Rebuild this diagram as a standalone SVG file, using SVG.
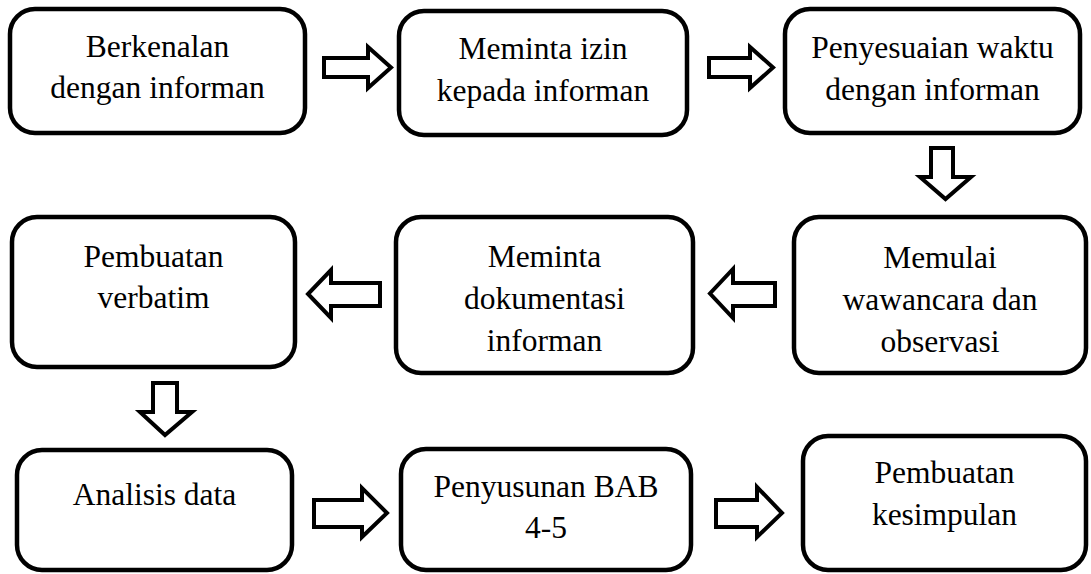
<svg xmlns="http://www.w3.org/2000/svg" width="1091" height="574" viewBox="0 0 1091 574">
<style>
.box{fill:#fff;stroke:#000;stroke-width:4.5}
.arr{fill:#fff;stroke:#000;stroke-width:4;stroke-linejoin:miter}
text{font-family:"Liberation Serif","Times New Roman",serif;font-size:31.5px;fill:#000;text-anchor:middle}
</style>
<rect width="1091" height="574" fill="#fff"/>
<g id="connectors">
<path class="arr" d="M324,58 H368 V47 L391,67.5 L368,88 V77 H324 Z"/>
<path class="arr" d="M709,58 H750 V47 L773,67.5 L750,88 V77 H709 Z"/>
<path class="arr" d="M931,148 H953 V177 H971 L945.5,199 L920,177 H931 Z"/>
<path class="arr" d="M775,283 H733 V269 L710,293.5 L733,318 V306 H775 Z"/>
<path class="arr" d="M380,283 H331 V270 L308,294 L331,318 V306 H380 Z"/>
<path class="arr" d="M153,383 H177 V412 H192 L165,435 L140,412 H153 Z"/>
<path class="arr" d="M314,500 H362 V488 L387,513 L362,537 V527 H314 Z"/>
<path class="arr" d="M716,500 H757 V487 L782,513 L757,537 V527 H716 Z"/>
</g>
<g id="n1"><rect class="box" x="10" y="9" width="295" height="124" rx="25"/><text x="157.5" y="57">Berkenalan</text><text x="157.5" y="98">dengan informan</text></g>
<g id="n2"><rect class="box" x="399" y="11" width="288" height="124" rx="25"/><text x="543" y="59">Meminta izin</text><text x="543" y="101">kepada informan</text></g>
<g id="n3"><rect class="box" x="785" y="9" width="295" height="124" rx="25"/><text x="932.5" y="58">Penyesuaian waktu</text><text x="932.5" y="100">dengan informan</text></g>
<g id="n4"><rect class="box" x="12" y="217" width="283" height="150" rx="25"/><text x="153.5" y="267">Pembuatan</text><text x="153.5" y="308">verbatim</text></g>
<g id="n5"><rect class="box" x="396" y="217" width="297" height="156" rx="25"/><text x="544.5" y="267">Meminta</text><text x="544.5" y="309">dokumentasi</text><text x="544.5" y="351">informan</text></g>
<g id="n6"><rect class="box" x="794" y="217" width="292" height="156" rx="25"/><text x="940" y="268">Memulai</text><text x="940" y="310">wawancara dan</text><text x="940" y="352">observasi</text></g>
<g id="n7"><rect class="box" x="17" y="450" width="275" height="120" rx="25"/><text x="154.5" y="505">Analisis data</text></g>
<g id="n8"><rect class="box" x="401" y="449" width="290" height="121" rx="25"/><text x="546" y="497">Penyusunan BAB</text><text x="546" y="538">4-5</text></g>
<g id="n9"><rect class="box" x="803" y="436" width="283" height="134" rx="25"/><text x="944.5" y="483">Pembuatan</text><text x="944.5" y="525">kesimpulan</text></g>
</svg>
